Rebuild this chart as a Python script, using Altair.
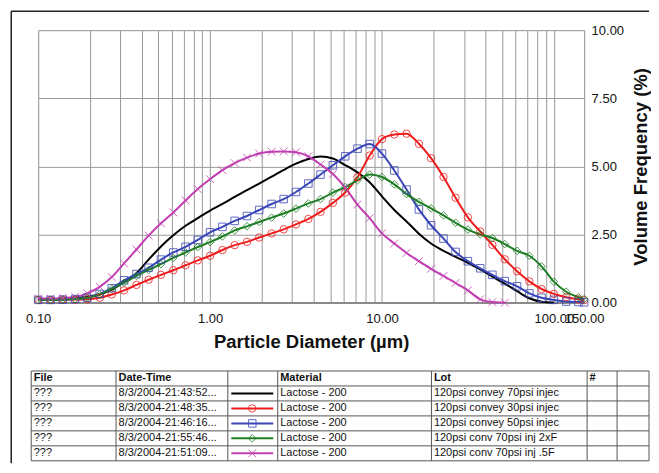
import altair as alt
import pandas as pd

# ---------------- data ----------------
SIZES_UM = [0.100, 0.118, 0.139, 0.164, 0.193, 0.228, 0.268, 0.316, 0.373, 0.439, 0.518, 0.611, 0.720, 0.848,
            1.00, 1.18, 1.39, 1.64, 1.93, 2.28, 2.68, 3.16, 3.73, 4.39, 5.18, 6.11, 7.20, 8.48,
            10.0, 11.8, 13.9, 16.4, 19.3, 22.8, 26.8, 31.6, 37.3, 43.9, 51.8, 61.1, 72.0, 84.8,
            100.0, 118.0, 139.0, 150.0]

FILES = ["???", "???", "???", "???", "???"]
DATE_TIMES = ["8/3/2004-21:43:52...", "8/3/2004-21:48:35...", "8/3/2004-21:46:16...",
              "8/3/2004-21:55:46...", "8/3/2004-21:51:09..."]
MATERIALS = ["Lactose - 200", "Lactose - 200", "Lactose - 200", "Lactose - 200", "Lactose - 200"]
LOTS = ["120psi convey 70psi injec", "120psi convey 30psi injec", "120psi convey 50psi injec",
        "120psi conv 70psi inj 2xF", "120psi conv 70psi inj .5F"]
HEADERS = ["File", "Date-Time", "", "Material", "Lot", "#", ""]

FREQ_BLACK = [0.13, 0.13, 0.14, 0.16, 0.22, 0.30, 0.48, 0.75, 1.08, 1.58,
              2.06, 2.47, 2.82, 3.10, 3.38, 3.62, 3.88, 4.13, 4.37, 4.62,
              4.87, 5.10, 5.27, 5.36, 5.29, 5.05, 4.78, 4.42, 3.90, 3.40,
              2.98, 2.53, 2.17, 1.90, 1.68, 1.46, 1.22, 0.95, 0.70, 0.42,
              0.16, 0.03, 0.00, None, None, None]
FREQ_RED = [0.10, 0.10, 0.11, 0.11, 0.12, 0.18, 0.30, 0.45, 0.65, 0.84,
            1.02, 1.19, 1.37, 1.55, 1.72, 1.93, 2.11, 2.23, 2.39, 2.54,
            2.69, 2.87, 3.07, 3.33, 3.66, 4.04, 4.60, 5.40, 6.00, 6.17,
            6.20, 5.83, 5.30, 4.61, 3.85, 3.13, 2.61, 2.12, 1.59, 1.15,
            0.78, 0.50, 0.32, 0.20, 0.12, 0.09]
FREQ_BLUE = [0.10, 0.10, 0.11, 0.13, 0.18, 0.32, 0.53, 0.82, 1.05, 1.28,
             1.58, 1.84, 2.05, 2.30, 2.58, 2.78, 3.00, 3.18, 3.40, 3.62,
             3.80, 4.06, 4.37, 4.70, 5.04, 5.37, 5.65, 5.82, 5.47, 4.85,
             4.15, 3.42, 2.84, 2.35, 1.86, 1.52, 1.26, 1.02, 0.79, 0.60,
             0.34, 0.18, 0.10, 0.04, 0.02, 0.01]
FREQ_GREEN = [0.10, 0.10, 0.11, 0.13, 0.18, 0.30, 0.51, 0.73, 0.98, 1.20,
              1.41, 1.64, 1.84, 2.04, 2.22, 2.43, 2.65, 2.80, 2.96, 3.12,
              3.27, 3.45, 3.64, 3.80, 4.04, 4.24, 4.49, 4.70, 4.61, 4.34,
              3.98, 3.70, 3.46, 3.20, 2.93, 2.68, 2.50, 2.37, 2.15, 1.90,
              1.72, 1.33, 0.77, 0.40, 0.20, 0.13]
FREQ_MAGENTA = [0.15, 0.15, 0.17, 0.21, 0.34, 0.58, 0.94, 1.44, 1.95, 2.46,
                2.91, 3.31, 3.75, 4.17, 4.53, 4.86, 5.12, 5.32, 5.47, 5.54,
                5.55, 5.52, 5.37, 5.07, 4.72, 4.22, 3.60, 3.10, 2.54, 2.17,
                1.82, 1.52, 1.24, 0.98, 0.72, 0.45, 0.12, 0.02, 0.00, None,
                None, None, None, None, None, None]
SERIES_FREQ = [FREQ_BLACK, FREQ_RED, FREQ_BLUE, FREQ_GREEN, FREQ_MAGENTA]

X_GRID = [0.1, 0.2, 0.3, 0.4, 0.5, 0.6, 0.7, 0.8, 0.9,
          1, 2, 3, 4, 5, 6, 7, 8, 9,
          10, 20, 30, 40, 50, 60, 70, 80, 90, 100, 150]
Y_TICKS = [0, 2.5, 5, 7.5, 10]

# ---------------- style / layout ----------------
FONT = "Liberation Sans"
COLORS = ["#000000", "#ee1c1c", "#3a46b8", "#1f7d24", "#c23fb2"]
X_PATH = "M-1,-1L1,1M-1,1L1,-1"
SHAPES = ["circle", "square", "diamond", X_PATH]
MARK_SIZES = [55, 60, 30, 40]
GRID_COLOR = "#9a9a9a"

W, H = 547, 273
COL_EDGES = [-7, 78, 190, 240, 394, 550, 580, 612]
TABLE_TOP = 341.5
ROW_H = 15
SYM_X0, SYM_X1, SYM_XM = 193.5, 235.5, 214.5
FRAME_LEFT, FRAME_TOP, FRAME_RIGHT, FRAME_BOTTOM = -27, -19, 612, 434

# ---------------- frames ----------------
freq_rows = []
for s, vals in zip(DATE_TIMES, SERIES_FREQ):
    for d, v in zip(SIZES_UM, vals):
        if v is not None:
            freq_rows.append({"size": d, "freq": v, "series": s})
freq_df = pd.DataFrame(freq_rows)

x_enc = alt.X("size:Q",
              scale=alt.Scale(type="log", domain=[0.1, 150], nice=False),
              axis=alt.Axis(values=X_GRID,
                            labelExpr="indexof([0.1, 1, 10, 100, 150], datum.value) >= 0 ? format(datum.value, '.2f') : ''",
                            labelOverlap=False, labelFlush=False, labelBound=False,
                            ticks=False, grid=True, gridColor=GRID_COLOR, gridWidth=1,
                            domainColor="#8a8a8a", domainWidth=2,
                            labelFont=FONT, labelFontSize=13, labelColor="#111", labelPadding=10,
                            title="Particle Diameter (µm)", titleFont=FONT, titleFontSize=18.5,
                            titleFontWeight="bold", titleColor="#111", titlePadding=7))
y_enc = alt.Y("freq:Q",
              scale=alt.Scale(domain=[0, 10], nice=False),
              axis=alt.Axis(orient="right", values=Y_TICKS, format=".2f", ticks=False,
                            grid=True, gridColor=GRID_COLOR, gridWidth=1, domain=False,
                            labelFont=FONT, labelFontSize=13, labelColor="#111", labelPadding=7,
                            title="Volume Frequency (%)", titleFont=FONT, titleFontSize=18.5,
                            titleFontWeight="bold", titleColor="#111", titleAngle=270,
                            titleBaseline="top", titlePadding=8))
color_enc = alt.Color("series:N", scale=alt.Scale(domain=DATE_TIMES, range=COLORS), legend=None)
shape_enc = alt.Shape("series:N", scale=alt.Scale(domain=DATE_TIMES[1:], range=SHAPES), legend=None)
size_enc = alt.Size("series:N", scale=alt.Scale(domain=DATE_TIMES[1:], range=MARK_SIZES), legend=None)

base = alt.Chart(freq_df)
lines = base.mark_line(interpolate="monotone", strokeWidth=2).encode(x_enc, y_enc, color_enc)
points = base.transform_filter(
    alt.FieldOneOfPredicate(field="series", oneOf=DATE_TIMES[1:])
).mark_point(filled=False, strokeWidth=1, opacity=0.8).encode(x_enc, y_enc, color_enc, shape_enc, size_enc)
main = alt.layer(lines, points)

# table
n_rows = len(DATE_TIMES) + 1
rule_rows = []
for i in range(n_rows + 1):
    y = TABLE_TOP + ROW_H * i
    rule_rows.append({"x": COL_EDGES[0], "x2": COL_EDGES[-1], "y": y, "y2": y})
for xe in COL_EDGES:
    rule_rows.append({"x": xe, "x2": xe, "y": TABLE_TOP, "y2": TABLE_TOP + ROW_H * n_rows})
rules_df = pd.DataFrame(rule_rows)

frame_df = pd.DataFrame([
    {"x": FRAME_LEFT, "x2": FRAME_RIGHT, "y": FRAME_TOP, "y2": FRAME_TOP},
    {"x": FRAME_LEFT, "x2": FRAME_LEFT, "y": FRAME_TOP, "y2": FRAME_BOTTOM},
])

head_df = pd.DataFrame([
    {"x": COL_EDGES[j] + 2.5, "y": TABLE_TOP + ROW_H * 0.5, "t": h}
    for j, h in enumerate(HEADERS) if h
])
body_rows = []
for i in range(len(DATE_TIMES)):
    yc = TABLE_TOP + ROW_H * (i + 1.5)
    for j, txt in [(0, FILES[i]), (1, DATE_TIMES[i]), (3, MATERIALS[i]), (4, LOTS[i])]:
        body_rows.append({"x": COL_EDGES[j] + 2.5, "y": yc, "t": txt})
body_df = pd.DataFrame(body_rows)

sym_df = pd.DataFrame([
    {"series": s, "x": SYM_X0, "x2": SYM_X1, "xm": SYM_XM, "y": TABLE_TOP + ROW_H * (i + 1.5)}
    for i, s in enumerate(DATE_TIMES)
])


def ix(f):
    return alt.X(f"{f}:Q", scale=None, axis=None)


def iy(f):
    return alt.Y(f"{f}:Q", scale=None, axis=None)


frame = alt.Chart(frame_df).mark_rule(color="#222", strokeWidth=1.5).encode(
    ix("x"), x2="x2:Q", y=iy("y"), y2="y2:Q")
table_rules = alt.Chart(rules_df).mark_rule(color="#555", strokeWidth=1).encode(
    ix("x"), x2="x2:Q", y=iy("y"), y2="y2:Q")
head_text = alt.Chart(head_df).mark_text(align="left", baseline="middle", font=FONT, fontSize=11,
                                         fontWeight="bold", color="#111").encode(ix("x"), iy("y"), text="t:N")
body_text = alt.Chart(body_df).mark_text(align="left", baseline="middle", font=FONT, fontSize=11,
                                         color="#111").encode(ix("x"), iy("y"), text="t:N")
sym_lines = alt.Chart(sym_df).mark_rule(strokeWidth=2).encode(ix("x"), x2="x2:Q", y=iy("y"), color=color_enc)
sym_points = alt.Chart(sym_df).transform_filter(
    alt.FieldOneOfPredicate(field="series", oneOf=DATE_TIMES[1:])
).mark_point(filled=False, strokeWidth=1, opacity=0.8).encode(ix("xm"), iy("y"), color_enc, shape_enc, size_enc)

table = alt.layer(frame, table_rules, sym_lines, sym_points, head_text, body_text)

chart = alt.layer(main, table).resolve_scale(x="independent", y="independent").properties(
    width=W, height=H, padding={"left": 2.25, "top": 1.75, "right": 0, "bottom": 0}, background="white"
).configure_view(stroke=GRID_COLOR, strokeWidth=1).configure(font=FONT)

chart.save("out.html", embed_options={"renderer": "svg", "actions": False})
